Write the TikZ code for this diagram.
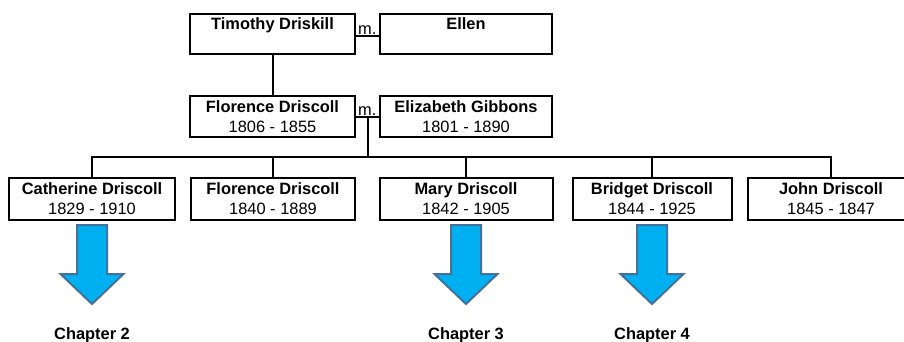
\documentclass[tikz,border=0pt]{standalone}
\usepackage{fontspec}
\setmainfont{Liberation Sans}
\usetikzlibrary{calc}
\definecolor{arrowfill}{HTML}{00B0F0}
\definecolor{arrowedge}{HTML}{41719C}
\begin{document}
\begin{tikzpicture}[x=1pt,y=-1pt,
  person/.style={draw, line width=2pt, inner sep=0pt, align=center,
    font=\fontsize{16.4}{20}\selectfont, minimum height=41pt},
  link/.style={line width=2pt, line join=miter},
  married/.style={font=\fontsize{16.4}{20}\selectfont, inner sep=0pt, anchor=base west},
  chapterarrow/.style={fill=arrowfill, draw=arrowedge, line width=2pt, line join=miter},
  chapter/.style={font=\bfseries\fontsize{16.4}{20}\selectfont, inner sep=0pt, anchor=base}]
\clip (0,0) rectangle (904,341);

% first generation
\node[person, minimum width=165pt, minimum height=40pt] (tim)   at (272.5,34) {\textbf{Timothy Driskill}\\\mbox{}};
\node[person, minimum width=172pt, minimum height=40pt] (ellen) at (466,34)   {\textbf{Ellen}\\\mbox{}};

% second generation
\node[person, minimum width=165pt] (flo)  at (272.5,116.5) {\textbf{Florence Driscoll}\\1806 - 1855};
\node[person, minimum width=172pt] (eliz) at (466,116.5)   {\textbf{Elizabeth Gibbons}\\1801 - 1890};

% children
\node[person, minimum width=166pt, minimum height=42pt] (cath) at (92,199)    {\textbf{Catherine Driscoll}\\1829 - 1910};
\node[person, minimum width=164pt, minimum height=42pt] (flo2) at (273,199)   {\textbf{Florence Driscoll}\\1840 - 1889};
\node[person, minimum width=173pt, minimum height=42pt] (mary) at (466,199)   {\textbf{Mary Driscoll}\\1842 - 1905};
\node[person, minimum width=159pt, minimum height=42pt] (brid) at (652,199)   {\textbf{Bridget Driscoll}\\1844 - 1925};
\node[person, minimum width=166pt, minimum height=42pt] (john) at (831,199)   {\textbf{John Driscoll}\\1845 - 1847};

% marriages
\node[married] (m1) at (358,34)  {m.};
\node[married] (m2) at (358,115) {m.};
\draw[link] ($(tim.east)+(0,1.5)$) -- ($(ellen.west)+(0,1.5)$);
\draw[link] (flo.east) -- (eliz.west);

% descent
\draw[link] (tim.south) -- (flo.north);
\coordinate (fam) at ($(flo.east)!0.5!(eliz.west)$);
\coordinate (bar) at ($(fam)+(0,40.5)$);
\draw[link] (fam) -- (bar);
\draw[link] (cath.north) -- (cath.north |- bar) -- (john.north |- bar) -- (john.north);
\foreach \c in {flo2,mary,brid}
  \draw[link] (\c.north |- bar) -- (\c.north);

% chapter arrows
\foreach \c/\n in {cath/ch2, mary/ch3, brid/ch4} {
  \draw[chapterarrow] ($(\c.south)+(-15,4)$) -- ($(\c.south)+(15,4)$)
    -- ($(\c.south)+(15,53)$) -- ($(\c.south)+(31.5,53)$)
    -- ($(\c.south)+(0,83)$) -- ($(\c.south)+(-31.5,53)$)
    -- ($(\c.south)+(-15,53)$) -- cycle;
}
\node[chapter] (ch2) at (cath.south |- 0,339) {Chapter 2};
\node[chapter] (ch3) at (mary.south |- 0,339) {Chapter 3};
\node[chapter] (ch4) at (brid.south |- 0,339) {Chapter 4};
\end{tikzpicture}
\end{document}
